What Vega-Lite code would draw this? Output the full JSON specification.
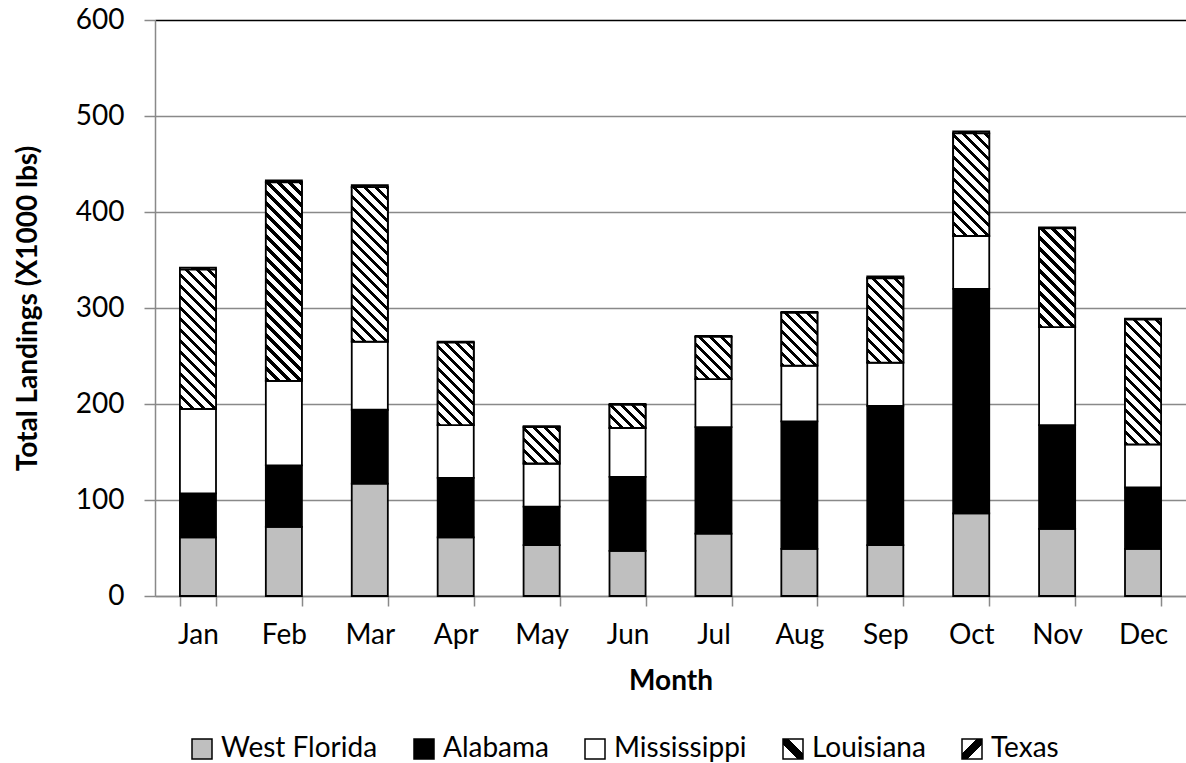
{
  "$schema": "https://vega.github.io/schema/vega-lite/v6.json",
  "width": 1031,
  "height": 576,
  "autosize": {"type": "none"},
  "padding": {"left": 155, "top": 20, "right": 0, "bottom": 167},
  "background": "white",
  "config": {"font": "Lato", "view": {"stroke": null}},
  "data": {"values": [
    {"month":"Jan","state":"West Florida","value":61},{"month":"Jan","state":"Alabama","value":46},{"month":"Jan","state":"Mississippi","value":88},{"month":"Jan","state":"Louisiana","value":145},{"month":"Jan","state":"Texas","value":2},
    {"month":"Feb","state":"West Florida","value":72},{"month":"Feb","state":"Alabama","value":64},{"month":"Feb","state":"Mississippi","value":88},{"month":"Feb","state":"Louisiana","value":207},{"month":"Feb","state":"Texas","value":2},
    {"month":"Mar","state":"West Florida","value":117},{"month":"Mar","state":"Alabama","value":77},{"month":"Mar","state":"Mississippi","value":71},{"month":"Mar","state":"Louisiana","value":161},{"month":"Mar","state":"Texas","value":2},
    {"month":"Apr","state":"West Florida","value":61},{"month":"Apr","state":"Alabama","value":62},{"month":"Apr","state":"Mississippi","value":55},{"month":"Apr","state":"Louisiana","value":86},{"month":"Apr","state":"Texas","value":1},
    {"month":"May","state":"West Florida","value":53},{"month":"May","state":"Alabama","value":40},{"month":"May","state":"Mississippi","value":45},{"month":"May","state":"Louisiana","value":38},{"month":"May","state":"Texas","value":1},
    {"month":"Jun","state":"West Florida","value":47},{"month":"Jun","state":"Alabama","value":77},{"month":"Jun","state":"Mississippi","value":51},{"month":"Jun","state":"Louisiana","value":24},{"month":"Jun","state":"Texas","value":1},
    {"month":"Jul","state":"West Florida","value":65},{"month":"Jul","state":"Alabama","value":111},{"month":"Jul","state":"Mississippi","value":50},{"month":"Jul","state":"Louisiana","value":44},{"month":"Jul","state":"Texas","value":1},
    {"month":"Aug","state":"West Florida","value":49},{"month":"Aug","state":"Alabama","value":133},{"month":"Aug","state":"Mississippi","value":58},{"month":"Aug","state":"Louisiana","value":55},{"month":"Aug","state":"Texas","value":1},
    {"month":"Sep","state":"West Florida","value":53},{"month":"Sep","state":"Alabama","value":145},{"month":"Sep","state":"Mississippi","value":45},{"month":"Sep","state":"Louisiana","value":88},{"month":"Sep","state":"Texas","value":2},
    {"month":"Oct","state":"West Florida","value":86},{"month":"Oct","state":"Alabama","value":234},{"month":"Oct","state":"Mississippi","value":55},{"month":"Oct","state":"Louisiana","value":107},{"month":"Oct","state":"Texas","value":2},
    {"month":"Nov","state":"West Florida","value":70},{"month":"Nov","state":"Alabama","value":108},{"month":"Nov","state":"Mississippi","value":102},{"month":"Nov","state":"Louisiana","value":103},{"month":"Nov","state":"Texas","value":1},
    {"month":"Dec","state":"West Florida","value":49},{"month":"Dec","state":"Alabama","value":64},{"month":"Dec","state":"Mississippi","value":45},{"month":"Dec","state":"Louisiana","value":130},{"month":"Dec","state":"Texas","value":1}
  ]},
  "transform": [
    {"stack": "value", "groupby": ["month"], "as": ["v0", "v1"]}
  ],
  "encoding": {
    "x": {
      "field": "month", "type": "nominal",
      "sort": ["Jan","Feb","Mar","Apr","May","Jun","Jul","Aug","Sep","Oct","Nov","Dec"],
      "scale": {"paddingInner": 0.58, "paddingOuter": 0.29},
      "axis": {
        "title": "Month", "titleFont": "Lato", "titleFontSize": 28, "titleFontWeight": "bold", "titleColor": "#000", "titlePadding": 18,
        "labelFont": "Lato", "labelFontSize": 28, "labelColor": "#000", "labelAngle": 0, "labelPadding": 15,
        "tickBand": "extent", "tickSize": 10, "tickColor": "#898989", "tickWidth": 1.5,
        "domainColor": "#898989", "domainWidth": 1.5, "grid": false
      }
    },
    "y": {
      "field": "v1", "type": "quantitative",
      "scale": {"domain": [0, 600], "nice": false},
      "axis": {
        "title": "Total Landings (X1000 lbs)", "titleFont": "Lato", "titleFontSize": 28, "titleFontWeight": "bold", "titleColor": "#000", "titlePadding": 33,
        "values": [0, 100, 200, 300, 400, 500, 600],
        "labelFont": "Lato", "labelFontSize": 28, "labelColor": "#000", "labelPadding": 20,
        "tickSize": 11, "tickColor": "#898989", "tickWidth": 1.5,
        "domainColor": "#898989", "domainWidth": 1.5,
        "grid": true, "gridWidth": 1.5,
        "gridColor": {"condition": {"test": "datum.value === 600", "value": "#000000"}, "value": "#898989"}
      }
    },
    "y2": {"field": "v0"}
  },
  "layer": [
    {
      "mark": {"type": "bar", "stroke": "#000000", "strokeWidth": 1.8},
      "encoding": {
        "fill": {
          "field": "state", "type": "nominal",
          "scale": {
            "domain": ["West Florida", "Alabama", "Mississippi", "Louisiana", "Texas"],
            "range": [
              "#BFBFBF", "#000000", "#FFFFFF",
              {"expr": "{gradient:'linear',x1:0,y1:1,x2:1,y2:0,stops:[{offset:0,color:'#fff'},{offset:0.37,color:'#fff'},{offset:0.37,color:'#000'},{offset:0.63,color:'#000'},{offset:0.63,color:'#fff'},{offset:1,color:'#fff'}]}"},
              {"expr": "{gradient:'linear',x1:0,y1:0,x2:1,y2:1,stops:[{offset:0,color:'#fff'},{offset:0.37,color:'#fff'},{offset:0.37,color:'#000'},{offset:0.63,color:'#000'},{offset:0.63,color:'#fff'},{offset:1,color:'#fff'}]}"}
            ]
          },
          "legend": {
            "orient": "none", "legendX": 33, "legendY": 715, "direction": "horizontal", "title": null,
            "symbolType": "square", "symbolSize": 400, "symbolStrokeColor": "#000000", "symbolStrokeWidth": 1.5,
            "labelFont": "Lato", "labelFontSize": 28, "labelColor": "#000", "labelOffset": 5, "labelLimit": 400,
            "columnPadding": 32, "padding": 0
          }
        }
      }
    },
    {
      "transform": [{"filter": "datum.state === 'Louisiana'"}],
      "mark": {"type": "bar", "stroke": "#000000", "strokeWidth": 1.8},
      "encoding": {
        "fill": {
          "condition": [
            {"test": "datum.month === 'Jan'", "value": {"gradient": "linear", "x1": 0, "y1": 1, "x2": 0.30716, "y2": -0.18473, "stops": [
                {"offset":0,"color":"#000"},{"offset":0.02375,"color":"#000"},{"offset":0.02375,"color":"#fff"},{"offset":0.0625,"color":"#fff"},
                {"offset":0.0625,"color":"#000"},{"offset":0.08625,"color":"#000"},{"offset":0.08625,"color":"#fff"},{"offset":0.125,"color":"#fff"},
                {"offset":0.125,"color":"#000"},{"offset":0.14875,"color":"#000"},{"offset":0.14875,"color":"#fff"},{"offset":0.1875,"color":"#fff"},
                {"offset":0.1875,"color":"#000"},{"offset":0.21125,"color":"#000"},{"offset":0.21125,"color":"#fff"},{"offset":0.25,"color":"#fff"},
                {"offset":0.25,"color":"#000"},{"offset":0.27375,"color":"#000"},{"offset":0.27375,"color":"#fff"},{"offset":0.3125,"color":"#fff"},
                {"offset":0.3125,"color":"#000"},{"offset":0.33625,"color":"#000"},{"offset":0.33625,"color":"#fff"},{"offset":0.375,"color":"#fff"},
                {"offset":0.375,"color":"#000"},{"offset":0.39875,"color":"#000"},{"offset":0.39875,"color":"#fff"},{"offset":0.4375,"color":"#fff"},
                {"offset":0.4375,"color":"#000"},{"offset":0.46125,"color":"#000"},{"offset":0.46125,"color":"#fff"},{"offset":0.5,"color":"#fff"},
                {"offset":0.5,"color":"#000"},{"offset":0.52375,"color":"#000"},{"offset":0.52375,"color":"#fff"},{"offset":0.5625,"color":"#fff"},
                {"offset":0.5625,"color":"#000"},{"offset":0.58625,"color":"#000"},{"offset":0.58625,"color":"#fff"},{"offset":0.625,"color":"#fff"},
                {"offset":0.625,"color":"#000"},{"offset":0.64875,"color":"#000"},{"offset":0.64875,"color":"#fff"},{"offset":0.6875,"color":"#fff"},
                {"offset":0.6875,"color":"#000"},{"offset":0.71125,"color":"#000"},{"offset":0.71125,"color":"#fff"},{"offset":0.75,"color":"#fff"},
                {"offset":0.75,"color":"#000"},{"offset":0.77375,"color":"#000"},{"offset":0.77375,"color":"#fff"},{"offset":0.8125,"color":"#fff"},
                {"offset":0.8125,"color":"#000"},{"offset":0.83625,"color":"#000"},{"offset":0.83625,"color":"#fff"},{"offset":0.875,"color":"#fff"},
                {"offset":0.875,"color":"#000"},{"offset":0.89875,"color":"#000"},{"offset":0.89875,"color":"#fff"},{"offset":0.9375,"color":"#fff"},
                {"offset":0.9375,"color":"#000"},{"offset":0.96125,"color":"#000"},{"offset":0.96125,"color":"#fff"},{"offset":1,"color":"#fff"}
              ]}},
            {"test": "datum.month === 'Feb'", "value": {"gradient": "linear", "x1": 0, "y1": 1, "x2": 0.21410, "y2": -0.17891, "stops": [
                {"offset":0,"color":"#000"},{"offset":0.01727,"color":"#000"},{"offset":0.01727,"color":"#fff"},{"offset":0.04545,"color":"#fff"},
                {"offset":0.04545,"color":"#000"},{"offset":0.06272,"color":"#000"},{"offset":0.06272,"color":"#fff"},{"offset":0.09091,"color":"#fff"},
                {"offset":0.09091,"color":"#000"},{"offset":0.10818,"color":"#000"},{"offset":0.10818,"color":"#fff"},{"offset":0.13636,"color":"#fff"},
                {"offset":0.13636,"color":"#000"},{"offset":0.15363,"color":"#000"},{"offset":0.15363,"color":"#fff"},{"offset":0.18182,"color":"#fff"},
                {"offset":0.18182,"color":"#000"},{"offset":0.19909,"color":"#000"},{"offset":0.19909,"color":"#fff"},{"offset":0.22727,"color":"#fff"},
                {"offset":0.22727,"color":"#000"},{"offset":0.24454,"color":"#000"},{"offset":0.24454,"color":"#fff"},{"offset":0.27273,"color":"#fff"},
                {"offset":0.27273,"color":"#000"},{"offset":0.29,"color":"#000"},{"offset":0.29,"color":"#fff"},{"offset":0.31818,"color":"#fff"},
                {"offset":0.31818,"color":"#000"},{"offset":0.33545,"color":"#000"},{"offset":0.33545,"color":"#fff"},{"offset":0.36364,"color":"#fff"},
                {"offset":0.36364,"color":"#000"},{"offset":0.38091,"color":"#000"},{"offset":0.38091,"color":"#fff"},{"offset":0.40909,"color":"#fff"},
                {"offset":0.40909,"color":"#000"},{"offset":0.42636,"color":"#000"},{"offset":0.42636,"color":"#fff"},{"offset":0.45455,"color":"#fff"},
                {"offset":0.45455,"color":"#000"},{"offset":0.47182,"color":"#000"},{"offset":0.47182,"color":"#fff"},{"offset":0.5,"color":"#fff"},
                {"offset":0.5,"color":"#000"},{"offset":0.51727,"color":"#000"},{"offset":0.51727,"color":"#fff"},{"offset":0.54545,"color":"#fff"},
                {"offset":0.54545,"color":"#000"},{"offset":0.56272,"color":"#000"},{"offset":0.56272,"color":"#fff"},{"offset":0.59091,"color":"#fff"},
                {"offset":0.59091,"color":"#000"},{"offset":0.60818,"color":"#000"},{"offset":0.60818,"color":"#fff"},{"offset":0.63636,"color":"#fff"},
                {"offset":0.63636,"color":"#000"},{"offset":0.65363,"color":"#000"},{"offset":0.65363,"color":"#fff"},{"offset":0.68182,"color":"#fff"},
                {"offset":0.68182,"color":"#000"},{"offset":0.69909,"color":"#000"},{"offset":0.69909,"color":"#fff"},{"offset":0.72727,"color":"#fff"},
                {"offset":0.72727,"color":"#000"},{"offset":0.74454,"color":"#000"},{"offset":0.74454,"color":"#fff"},{"offset":0.77273,"color":"#fff"},
                {"offset":0.77273,"color":"#000"},{"offset":0.79,"color":"#000"},{"offset":0.79,"color":"#fff"},{"offset":0.81818,"color":"#fff"},
                {"offset":0.81818,"color":"#000"},{"offset":0.83545,"color":"#000"},{"offset":0.83545,"color":"#fff"},{"offset":0.86364,"color":"#fff"},
                {"offset":0.86364,"color":"#000"},{"offset":0.88091,"color":"#000"},{"offset":0.88091,"color":"#fff"},{"offset":0.90909,"color":"#fff"},
                {"offset":0.90909,"color":"#000"},{"offset":0.92636,"color":"#000"},{"offset":0.92636,"color":"#fff"},{"offset":0.95455,"color":"#fff"},
                {"offset":0.95455,"color":"#000"},{"offset":0.97182,"color":"#000"},{"offset":0.97182,"color":"#fff"},{"offset":1,"color":"#fff"}
              ]}},
            {"test": "datum.month === 'Mar'", "value": {"gradient": "linear", "x1": 0, "y1": 1, "x2": 0.28366, "y2": -0.21483, "stops": [
                {"offset":0,"color":"#000"},{"offset":0.02111,"color":"#000"},{"offset":0.02111,"color":"#fff"},{"offset":0.05556,"color":"#fff"},
                {"offset":0.05556,"color":"#000"},{"offset":0.07667,"color":"#000"},{"offset":0.07667,"color":"#fff"},{"offset":0.11111,"color":"#fff"},
                {"offset":0.11111,"color":"#000"},{"offset":0.13222,"color":"#000"},{"offset":0.13222,"color":"#fff"},{"offset":0.16667,"color":"#fff"},
                {"offset":0.16667,"color":"#000"},{"offset":0.18778,"color":"#000"},{"offset":0.18778,"color":"#fff"},{"offset":0.22222,"color":"#fff"},
                {"offset":0.22222,"color":"#000"},{"offset":0.24333,"color":"#000"},{"offset":0.24333,"color":"#fff"},{"offset":0.27778,"color":"#fff"},
                {"offset":0.27778,"color":"#000"},{"offset":0.29889,"color":"#000"},{"offset":0.29889,"color":"#fff"},{"offset":0.33333,"color":"#fff"},
                {"offset":0.33333,"color":"#000"},{"offset":0.35444,"color":"#000"},{"offset":0.35444,"color":"#fff"},{"offset":0.38889,"color":"#fff"},
                {"offset":0.38889,"color":"#000"},{"offset":0.41,"color":"#000"},{"offset":0.41,"color":"#fff"},{"offset":0.44444,"color":"#fff"},
                {"offset":0.44444,"color":"#000"},{"offset":0.46556,"color":"#000"},{"offset":0.46556,"color":"#fff"},{"offset":0.5,"color":"#fff"},
                {"offset":0.5,"color":"#000"},{"offset":0.52111,"color":"#000"},{"offset":0.52111,"color":"#fff"},{"offset":0.55556,"color":"#fff"},
                {"offset":0.55556,"color":"#000"},{"offset":0.57667,"color":"#000"},{"offset":0.57667,"color":"#fff"},{"offset":0.61111,"color":"#fff"},
                {"offset":0.61111,"color":"#000"},{"offset":0.63222,"color":"#000"},{"offset":0.63222,"color":"#fff"},{"offset":0.66667,"color":"#fff"},
                {"offset":0.66667,"color":"#000"},{"offset":0.68778,"color":"#000"},{"offset":0.68778,"color":"#fff"},{"offset":0.72222,"color":"#fff"},
                {"offset":0.72222,"color":"#000"},{"offset":0.74333,"color":"#000"},{"offset":0.74333,"color":"#fff"},{"offset":0.77778,"color":"#fff"},
                {"offset":0.77778,"color":"#000"},{"offset":0.79889,"color":"#000"},{"offset":0.79889,"color":"#fff"},{"offset":0.83333,"color":"#fff"},
                {"offset":0.83333,"color":"#000"},{"offset":0.85444,"color":"#000"},{"offset":0.85444,"color":"#fff"},{"offset":0.88889,"color":"#fff"},
                {"offset":0.88889,"color":"#000"},{"offset":0.91,"color":"#000"},{"offset":0.91,"color":"#fff"},{"offset":0.94444,"color":"#fff"},
                {"offset":0.94444,"color":"#000"},{"offset":0.96556,"color":"#000"},{"offset":0.96556,"color":"#fff"},{"offset":1,"color":"#fff"}
              ]}},
            {"test": "datum.month === 'Apr'", "value": {"gradient": "linear", "x1": 0, "y1": 1, "x2": 0.53789, "y2": -0.23048, "stops": [
                {"offset":0,"color":"#000"},{"offset":0.03455,"color":"#000"},{"offset":0.03455,"color":"#fff"},{"offset":0.09091,"color":"#fff"},
                {"offset":0.09091,"color":"#000"},{"offset":0.12545,"color":"#000"},{"offset":0.12545,"color":"#fff"},{"offset":0.18182,"color":"#fff"},
                {"offset":0.18182,"color":"#000"},{"offset":0.21636,"color":"#000"},{"offset":0.21636,"color":"#fff"},{"offset":0.27273,"color":"#fff"},
                {"offset":0.27273,"color":"#000"},{"offset":0.30727,"color":"#000"},{"offset":0.30727,"color":"#fff"},{"offset":0.36364,"color":"#fff"},
                {"offset":0.36364,"color":"#000"},{"offset":0.39818,"color":"#000"},{"offset":0.39818,"color":"#fff"},{"offset":0.45455,"color":"#fff"},
                {"offset":0.45455,"color":"#000"},{"offset":0.48909,"color":"#000"},{"offset":0.48909,"color":"#fff"},{"offset":0.54545,"color":"#fff"},
                {"offset":0.54545,"color":"#000"},{"offset":0.58,"color":"#000"},{"offset":0.58,"color":"#fff"},{"offset":0.63636,"color":"#fff"},
                {"offset":0.63636,"color":"#000"},{"offset":0.67091,"color":"#000"},{"offset":0.67091,"color":"#fff"},{"offset":0.72727,"color":"#fff"},
                {"offset":0.72727,"color":"#000"},{"offset":0.76182,"color":"#000"},{"offset":0.76182,"color":"#fff"},{"offset":0.81818,"color":"#fff"},
                {"offset":0.81818,"color":"#000"},{"offset":0.85273,"color":"#000"},{"offset":0.85273,"color":"#fff"},{"offset":0.90909,"color":"#fff"},
                {"offset":0.90909,"color":"#000"},{"offset":0.94364,"color":"#000"},{"offset":0.94364,"color":"#fff"},{"offset":1,"color":"#fff"}
              ]}},
            {"test": "datum.month === 'May'", "value": {"gradient": "linear", "x1": 0, "y1": 1, "x2": 1.05531, "y2": -0.06671, "stops": [
                {"offset":0,"color":"#000"},{"offset":0.05429,"color":"#000"},{"offset":0.05429,"color":"#fff"},{"offset":0.14286,"color":"#fff"},
                {"offset":0.14286,"color":"#000"},{"offset":0.19714,"color":"#000"},{"offset":0.19714,"color":"#fff"},{"offset":0.28571,"color":"#fff"},
                {"offset":0.28571,"color":"#000"},{"offset":0.34,"color":"#000"},{"offset":0.34,"color":"#fff"},{"offset":0.42857,"color":"#fff"},
                {"offset":0.42857,"color":"#000"},{"offset":0.48286,"color":"#000"},{"offset":0.48286,"color":"#fff"},{"offset":0.57143,"color":"#fff"},
                {"offset":0.57143,"color":"#000"},{"offset":0.62571,"color":"#000"},{"offset":0.62571,"color":"#fff"},{"offset":0.71429,"color":"#fff"},
                {"offset":0.71429,"color":"#000"},{"offset":0.76857,"color":"#000"},{"offset":0.76857,"color":"#fff"},{"offset":0.85714,"color":"#fff"},
                {"offset":0.85714,"color":"#000"},{"offset":0.91143,"color":"#000"},{"offset":0.91143,"color":"#fff"},{"offset":1,"color":"#fff"}
              ]}},
            {"test": "datum.month === 'Jun'", "value": {"gradient": "linear", "x1": 0, "y1": 1, "x2": 1.29924, "y2": 0.17056, "stops": [
                {"offset":0,"color":"#000"},{"offset":0.06333,"color":"#000"},{"offset":0.06333,"color":"#fff"},{"offset":0.16667,"color":"#fff"},
                {"offset":0.16667,"color":"#000"},{"offset":0.23,"color":"#000"},{"offset":0.23,"color":"#fff"},{"offset":0.33333,"color":"#fff"},
                {"offset":0.33333,"color":"#000"},{"offset":0.39667,"color":"#000"},{"offset":0.39667,"color":"#fff"},{"offset":0.5,"color":"#fff"},
                {"offset":0.5,"color":"#000"},{"offset":0.56333,"color":"#000"},{"offset":0.56333,"color":"#fff"},{"offset":0.66667,"color":"#fff"},
                {"offset":0.66667,"color":"#000"},{"offset":0.73,"color":"#000"},{"offset":0.73,"color":"#fff"},{"offset":0.83333,"color":"#fff"},
                {"offset":0.83333,"color":"#000"},{"offset":0.89667,"color":"#000"},{"offset":0.89667,"color":"#fff"},{"offset":1,"color":"#fff"}
              ]}},
            {"test": "datum.month === 'Jul'", "value": {"gradient": "linear", "x1": 0, "y1": 1, "x2": 1.02890, "y2": -0.20422, "stops": [
                {"offset":0,"color":"#000"},{"offset":0.0475,"color":"#000"},{"offset":0.0475,"color":"#fff"},{"offset":0.125,"color":"#fff"},
                {"offset":0.125,"color":"#000"},{"offset":0.1725,"color":"#000"},{"offset":0.1725,"color":"#fff"},{"offset":0.25,"color":"#fff"},
                {"offset":0.25,"color":"#000"},{"offset":0.2975,"color":"#000"},{"offset":0.2975,"color":"#fff"},{"offset":0.375,"color":"#fff"},
                {"offset":0.375,"color":"#000"},{"offset":0.4225,"color":"#000"},{"offset":0.4225,"color":"#fff"},{"offset":0.5,"color":"#fff"},
                {"offset":0.5,"color":"#000"},{"offset":0.5475,"color":"#000"},{"offset":0.5475,"color":"#fff"},{"offset":0.625,"color":"#fff"},
                {"offset":0.625,"color":"#000"},{"offset":0.6725,"color":"#000"},{"offset":0.6725,"color":"#fff"},{"offset":0.75,"color":"#fff"},
                {"offset":0.75,"color":"#000"},{"offset":0.7975,"color":"#000"},{"offset":0.7975,"color":"#fff"},{"offset":0.875,"color":"#fff"},
                {"offset":0.875,"color":"#000"},{"offset":0.9225,"color":"#000"},{"offset":0.9225,"color":"#fff"},{"offset":1,"color":"#fff"}
              ]}},
            {"test": "datum.month === 'Aug'", "value": {"gradient": "linear", "x1": 0, "y1": 1, "x2": 0.87352, "y2": -0.27797, "stops": [
                {"offset":0,"color":"#000"},{"offset":0.04222,"color":"#000"},{"offset":0.04222,"color":"#fff"},{"offset":0.11111,"color":"#fff"},
                {"offset":0.11111,"color":"#000"},{"offset":0.15333,"color":"#000"},{"offset":0.15333,"color":"#fff"},{"offset":0.22222,"color":"#fff"},
                {"offset":0.22222,"color":"#000"},{"offset":0.26444,"color":"#000"},{"offset":0.26444,"color":"#fff"},{"offset":0.33333,"color":"#fff"},
                {"offset":0.33333,"color":"#000"},{"offset":0.37556,"color":"#000"},{"offset":0.37556,"color":"#fff"},{"offset":0.44444,"color":"#fff"},
                {"offset":0.44444,"color":"#000"},{"offset":0.48667,"color":"#000"},{"offset":0.48667,"color":"#fff"},{"offset":0.55556,"color":"#fff"},
                {"offset":0.55556,"color":"#000"},{"offset":0.59778,"color":"#000"},{"offset":0.59778,"color":"#fff"},{"offset":0.66667,"color":"#fff"},
                {"offset":0.66667,"color":"#000"},{"offset":0.70889,"color":"#000"},{"offset":0.70889,"color":"#fff"},{"offset":0.77778,"color":"#fff"},
                {"offset":0.77778,"color":"#000"},{"offset":0.82,"color":"#000"},{"offset":0.82,"color":"#fff"},{"offset":0.88889,"color":"#fff"},
                {"offset":0.88889,"color":"#000"},{"offset":0.93111,"color":"#000"},{"offset":0.93111,"color":"#fff"},{"offset":1,"color":"#fff"}
              ]}},
            {"test": "datum.month === 'Sep'", "value": {"gradient": "linear", "x1": 0, "y1": 1, "x2": 0.51745, "y2": -0.21127, "stops": [
                {"offset":0,"color":"#000"},{"offset":0.03455,"color":"#000"},{"offset":0.03455,"color":"#fff"},{"offset":0.09091,"color":"#fff"},
                {"offset":0.09091,"color":"#000"},{"offset":0.12545,"color":"#000"},{"offset":0.12545,"color":"#fff"},{"offset":0.18182,"color":"#fff"},
                {"offset":0.18182,"color":"#000"},{"offset":0.21636,"color":"#000"},{"offset":0.21636,"color":"#fff"},{"offset":0.27273,"color":"#fff"},
                {"offset":0.27273,"color":"#000"},{"offset":0.30727,"color":"#000"},{"offset":0.30727,"color":"#fff"},{"offset":0.36364,"color":"#fff"},
                {"offset":0.36364,"color":"#000"},{"offset":0.39818,"color":"#000"},{"offset":0.39818,"color":"#fff"},{"offset":0.45455,"color":"#fff"},
                {"offset":0.45455,"color":"#000"},{"offset":0.48909,"color":"#000"},{"offset":0.48909,"color":"#fff"},{"offset":0.54545,"color":"#fff"},
                {"offset":0.54545,"color":"#000"},{"offset":0.58,"color":"#000"},{"offset":0.58,"color":"#fff"},{"offset":0.63636,"color":"#fff"},
                {"offset":0.63636,"color":"#000"},{"offset":0.67091,"color":"#000"},{"offset":0.67091,"color":"#fff"},{"offset":0.72727,"color":"#fff"},
                {"offset":0.72727,"color":"#000"},{"offset":0.76182,"color":"#000"},{"offset":0.76182,"color":"#fff"},{"offset":0.81818,"color":"#fff"},
                {"offset":0.81818,"color":"#000"},{"offset":0.85273,"color":"#000"},{"offset":0.85273,"color":"#fff"},{"offset":0.90909,"color":"#fff"},
                {"offset":0.90909,"color":"#000"},{"offset":0.94364,"color":"#000"},{"offset":0.94364,"color":"#fff"},{"offset":1,"color":"#fff"}
              ]}},
            {"test": "datum.month === 'Oct'", "value": {"gradient": "linear", "x1": 0, "y1": 1, "x2": 0.43538, "y2": -0.23919, "stops": [
                {"offset":0,"color":"#000"},{"offset":0.02923,"color":"#000"},{"offset":0.02923,"color":"#fff"},{"offset":0.07692,"color":"#fff"},
                {"offset":0.07692,"color":"#000"},{"offset":0.10615,"color":"#000"},{"offset":0.10615,"color":"#fff"},{"offset":0.15385,"color":"#fff"},
                {"offset":0.15385,"color":"#000"},{"offset":0.18308,"color":"#000"},{"offset":0.18308,"color":"#fff"},{"offset":0.23077,"color":"#fff"},
                {"offset":0.23077,"color":"#000"},{"offset":0.26,"color":"#000"},{"offset":0.26,"color":"#fff"},{"offset":0.30769,"color":"#fff"},
                {"offset":0.30769,"color":"#000"},{"offset":0.33692,"color":"#000"},{"offset":0.33692,"color":"#fff"},{"offset":0.38462,"color":"#fff"},
                {"offset":0.38462,"color":"#000"},{"offset":0.41385,"color":"#000"},{"offset":0.41385,"color":"#fff"},{"offset":0.46154,"color":"#fff"},
                {"offset":0.46154,"color":"#000"},{"offset":0.49077,"color":"#000"},{"offset":0.49077,"color":"#fff"},{"offset":0.53846,"color":"#fff"},
                {"offset":0.53846,"color":"#000"},{"offset":0.56769,"color":"#000"},{"offset":0.56769,"color":"#fff"},{"offset":0.61538,"color":"#fff"},
                {"offset":0.61538,"color":"#000"},{"offset":0.64462,"color":"#000"},{"offset":0.64462,"color":"#fff"},{"offset":0.69231,"color":"#fff"},
                {"offset":0.69231,"color":"#000"},{"offset":0.72154,"color":"#000"},{"offset":0.72154,"color":"#fff"},{"offset":0.76923,"color":"#fff"},
                {"offset":0.76923,"color":"#000"},{"offset":0.79846,"color":"#000"},{"offset":0.79846,"color":"#fff"},{"offset":0.84615,"color":"#fff"},
                {"offset":0.84615,"color":"#000"},{"offset":0.87538,"color":"#000"},{"offset":0.87538,"color":"#fff"},{"offset":0.92308,"color":"#fff"},
                {"offset":0.92308,"color":"#000"},{"offset":0.95231,"color":"#000"},{"offset":0.95231,"color":"#fff"},{"offset":1,"color":"#fff"}
              ]}},
            {"test": "datum.month === 'Nov'", "value": {"gradient": "linear", "x1": 0, "y1": 1, "x2": 0.46578, "y2": -0.27615, "stops": [
                {"offset":0,"color":"#000"},{"offset":0.02923,"color":"#000"},{"offset":0.02923,"color":"#fff"},{"offset":0.07692,"color":"#fff"},
                {"offset":0.07692,"color":"#000"},{"offset":0.10615,"color":"#000"},{"offset":0.10615,"color":"#fff"},{"offset":0.15385,"color":"#fff"},
                {"offset":0.15385,"color":"#000"},{"offset":0.18308,"color":"#000"},{"offset":0.18308,"color":"#fff"},{"offset":0.23077,"color":"#fff"},
                {"offset":0.23077,"color":"#000"},{"offset":0.26,"color":"#000"},{"offset":0.26,"color":"#fff"},{"offset":0.30769,"color":"#fff"},
                {"offset":0.30769,"color":"#000"},{"offset":0.33692,"color":"#000"},{"offset":0.33692,"color":"#fff"},{"offset":0.38462,"color":"#fff"},
                {"offset":0.38462,"color":"#000"},{"offset":0.41385,"color":"#000"},{"offset":0.41385,"color":"#fff"},{"offset":0.46154,"color":"#fff"},
                {"offset":0.46154,"color":"#000"},{"offset":0.49077,"color":"#000"},{"offset":0.49077,"color":"#fff"},{"offset":0.53846,"color":"#fff"},
                {"offset":0.53846,"color":"#000"},{"offset":0.56769,"color":"#000"},{"offset":0.56769,"color":"#fff"},{"offset":0.61538,"color":"#fff"},
                {"offset":0.61538,"color":"#000"},{"offset":0.64462,"color":"#000"},{"offset":0.64462,"color":"#fff"},{"offset":0.69231,"color":"#fff"},
                {"offset":0.69231,"color":"#000"},{"offset":0.72154,"color":"#000"},{"offset":0.72154,"color":"#fff"},{"offset":0.76923,"color":"#fff"},
                {"offset":0.76923,"color":"#000"},{"offset":0.79846,"color":"#000"},{"offset":0.79846,"color":"#fff"},{"offset":0.84615,"color":"#fff"},
                {"offset":0.84615,"color":"#000"},{"offset":0.87538,"color":"#000"},{"offset":0.87538,"color":"#fff"},{"offset":0.92308,"color":"#fff"},
                {"offset":0.92308,"color":"#000"},{"offset":0.95231,"color":"#000"},{"offset":0.95231,"color":"#fff"},{"offset":1,"color":"#fff"}
              ]}},
            {"test": "datum.month === 'Dec'", "value": {"gradient": "linear", "x1": 0, "y1": 1, "x2": 0.35283, "y2": -0.22008, "stops": [
                {"offset":0,"color":"#000"},{"offset":0.02533,"color":"#000"},{"offset":0.02533,"color":"#fff"},{"offset":0.06667,"color":"#fff"},
                {"offset":0.06667,"color":"#000"},{"offset":0.092,"color":"#000"},{"offset":0.092,"color":"#fff"},{"offset":0.13333,"color":"#fff"},
                {"offset":0.13333,"color":"#000"},{"offset":0.15867,"color":"#000"},{"offset":0.15867,"color":"#fff"},{"offset":0.2,"color":"#fff"},
                {"offset":0.2,"color":"#000"},{"offset":0.22533,"color":"#000"},{"offset":0.22533,"color":"#fff"},{"offset":0.26667,"color":"#fff"},
                {"offset":0.26667,"color":"#000"},{"offset":0.292,"color":"#000"},{"offset":0.292,"color":"#fff"},{"offset":0.33333,"color":"#fff"},
                {"offset":0.33333,"color":"#000"},{"offset":0.35867,"color":"#000"},{"offset":0.35867,"color":"#fff"},{"offset":0.4,"color":"#fff"},
                {"offset":0.4,"color":"#000"},{"offset":0.42533,"color":"#000"},{"offset":0.42533,"color":"#fff"},{"offset":0.46667,"color":"#fff"},
                {"offset":0.46667,"color":"#000"},{"offset":0.492,"color":"#000"},{"offset":0.492,"color":"#fff"},{"offset":0.53333,"color":"#fff"},
                {"offset":0.53333,"color":"#000"},{"offset":0.55867,"color":"#000"},{"offset":0.55867,"color":"#fff"},{"offset":0.6,"color":"#fff"},
                {"offset":0.6,"color":"#000"},{"offset":0.62533,"color":"#000"},{"offset":0.62533,"color":"#fff"},{"offset":0.66667,"color":"#fff"},
                {"offset":0.66667,"color":"#000"},{"offset":0.692,"color":"#000"},{"offset":0.692,"color":"#fff"},{"offset":0.73333,"color":"#fff"},
                {"offset":0.73333,"color":"#000"},{"offset":0.75867,"color":"#000"},{"offset":0.75867,"color":"#fff"},{"offset":0.8,"color":"#fff"},
                {"offset":0.8,"color":"#000"},{"offset":0.82533,"color":"#000"},{"offset":0.82533,"color":"#fff"},{"offset":0.86667,"color":"#fff"},
                {"offset":0.86667,"color":"#000"},{"offset":0.892,"color":"#000"},{"offset":0.892,"color":"#fff"},{"offset":0.93333,"color":"#fff"},
                {"offset":0.93333,"color":"#000"},{"offset":0.95867,"color":"#000"},{"offset":0.95867,"color":"#fff"},{"offset":1,"color":"#fff"}
              ]}}
          ],
          "value": "#ffffff"
        }
      }
    }
  ]
}
